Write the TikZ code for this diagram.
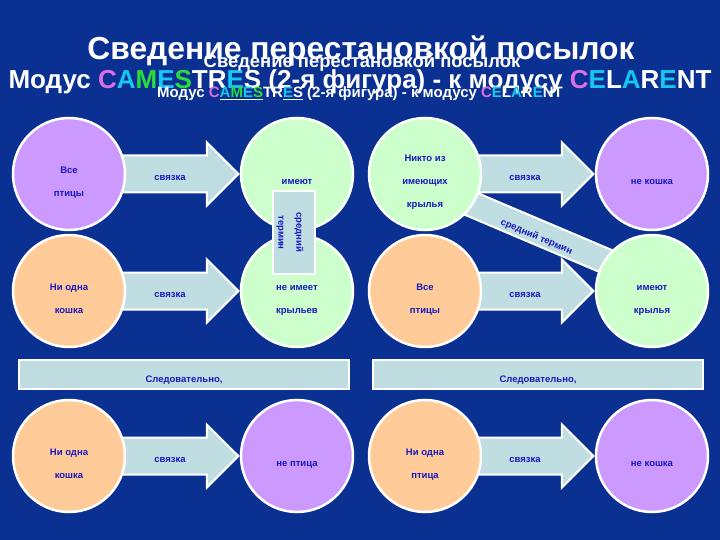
\documentclass[tikz,border=0pt]{standalone}
\usepackage{fontspec}
\setmainfont{Liberation Sans}
\usetikzlibrary{shapes.arrows,positioning,calc}
\definecolor{slideblue}{RGB}{10,48,145}
\definecolor{inkblue}{RGB}{25,25,190}
\definecolor{lavender}{RGB}{204,153,255}
\definecolor{mint}{RGB}{204,255,204}
\definecolor{peach}{RGB}{255,204,153}
\definecolor{linkfill}{RGB}{192,222,226}
\definecolor{modmag}{RGB}{220,110,230}
\definecolor{modcyan}{RGB}{20,200,240}
\definecolor{modgreen}{RGB}{40,220,60}
\newcommand\lmag[1]{\textcolor{modmag}{#1}}
\newcommand\lcyan[1]{\textcolor{modcyan}{#1}}
\newcommand\lgrn[1]{\textcolor{modgreen}{#1}}
% text sits a little low in its box, as on the slide
\newcommand\lowtext[2][-6pt]{\raisebox{#1}[\height][\depth]{\begin{tabular}{@{}c@{}}#2\end{tabular}}}
\pgfdeclarelayer{back}
\pgfdeclarelayer{links}
\pgfsetlayers{back,links,main}

\begin{document}
\begin{tikzpicture}[
    x=1pt, y=-1pt, on grid,
    term/.style={circle, draw=white, line width=2.5pt, minimum size=112pt, inner sep=0pt, text=inkblue, font=\bfseries\fontsize{9.5}{23}\selectfont},
    link/.style={single arrow, draw=white, line width=2pt, fill=linkfill, text=inkblue, font=\bfseries\fontsize{9.5}{11}\selectfont, minimum height=118pt, minimum width=62pt, single arrow head extend=13pt, text height=7pt, text depth=2pt, inner ysep=13pt, inner xsep=0pt},
    midterm/.style={rectangle, draw=white, line width=2pt, fill=linkfill, text=inkblue, font=\bfseries\fontsize{9.5}{18}\selectfont, inner sep=0pt},
    hence/.style={rectangle, draw=white, line width=2pt, fill=linkfill, text=inkblue, font=\bfseries\fontsize{9.5}{11}\selectfont, minimum width=330pt, minimum height=29pt, inner sep=0pt},
    title/.style={text=white, anchor=base, inner sep=0pt}
]
\useasboundingbox (0,0) rectangle (720,540);
\begin{pgfonlayer}{back}
\fill[slideblue] (0,0) rectangle (720,540);
\end{pgfonlayer}

% titles
\node[title, font=\bfseries\fontsize{31.8}{32}\selectfont] (head1) at (361,60) {Сведение перестановкой посылок};
\node[title, font=\bfseries\fontsize{26}{26}\selectfont] (head2) at (360,89) {Модус \lmag{C}\lcyan{A}\lgrn{M}\lcyan{E}\lgrn{S}TR\lcyan{E}S (2-я фигура) - к модусу \lmag{C}\lcyan{E}L\lcyan{A}R\lcyan{E}NT};
\node[title, font=\bfseries\fontsize{18.4}{18}\selectfont] (sub1) at (362,68) {Сведение перестановкой посылок};
\node[title, font=\bfseries\fontsize{15}{15}\selectfont] (sub2) at (360,98) {Модус \lmag{C}\underline{\lcyan{A}\lgrn{M}\lcyan{E}\lgrn{S}}TR\underline{\lcyan{E}S} (2-я фигура) - к модусу \lmag{C}\lcyan{E}L\lcyan{A}R\lcyan{E}NT};

% CAMESTRES
\node[term, fill=lavender] (vse) at (69,174) {\lowtext{Все\\птицы}};
\node[term, fill=mint, right=228pt of vse] (imeyut) {\lowtext{имеют}};
\node[term, fill=peach, below=117pt of vse] (nikoshka) {\lowtext{Ни одна\\кошка}};
\node[term, fill=mint, right=228pt of nikoshka] (neimeet) {\lowtext{не имеет\\крыльев}};
\node[term, fill=peach, below=282pt of vse] (vyvod1) {\lowtext{Ни одна\\кошка}};
\node[term, fill=lavender, right=228pt of vyvod1] (neptica) {\lowtext{не птица}};

% CELARENT
\node[term, fill=mint, right=128pt of imeyut] (nikto) {\lowtext{Никто из\\имеющих\\крылья}};
\node[term, fill=lavender, right=227pt of nikto] (nekoshka) {\lowtext{не кошка}};
\node[term, fill=peach, below=117pt of nikto] (vseptic) {\lowtext{Все\\птицы}};
\node[term, fill=mint, right=227pt of vseptic] (krylya) {\lowtext{имеют\\крылья}};
\node[term, fill=peach, below=282pt of nikto] (vyvod2) {\lowtext{Ни одна\\птица}};
\node[term, fill=lavender, right=227pt of vyvod2] (nekoshka2) {\lowtext{не кошка}};

\begin{pgfonlayer}{links}
\node[link, anchor=tip] (sv1) at (imeyut.west) {\lowtext[-4pt]{связка}};
\node[link, anchor=tip] (sv2) at (neimeet.west) {\lowtext[-4pt]{связка}};
\node[link, anchor=tip] (sv3) at (neptica.west) {\lowtext[-4pt]{связка}};
\node[link, anchor=tip] (sv4) at (nekoshka.west) {\lowtext[-4pt]{связка}};
\node[link, anchor=tip] (sv5) at (krylya.west) {\lowtext[-4pt]{связка}};
\node[link, anchor=tip] (sv6) at (nekoshka2.west) {\lowtext[-4pt]{связка}};
\node[midterm, rotate=-23, minimum width=205pt, minimum height=25pt] (mid2) at ($(nikto)!0.5!(krylya)$) {\lowtext[-4pt]{средний термин}};
\end{pgfonlayer}

\node[midterm, rotate=-90, minimum width=82pt, minimum height=42pt] (mid1) at ($(imeyut)!0.5!(neimeet)+(-3,0)$) {\lowtext[-3pt]{средний\\термин}};

\node[hence] (sled1) at (184,374) {\lowtext{Следовательно,}};
\node[hence] (sled2) at (538,374) {\lowtext{Следовательно,}};

\end{tikzpicture}
\end{document}
